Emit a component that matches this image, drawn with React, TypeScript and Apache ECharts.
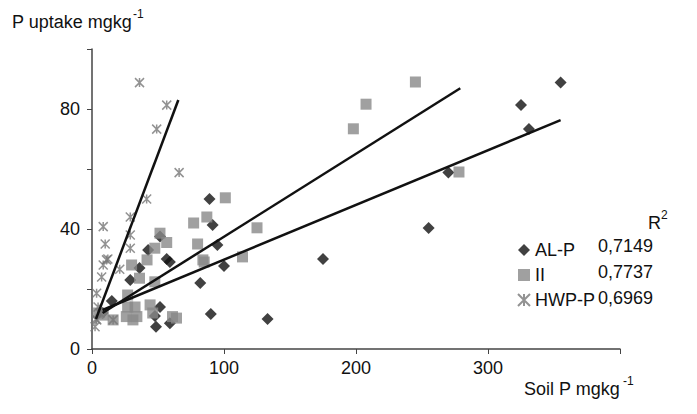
import React, { useEffect, useRef } from "react";
import * as echarts from "echarts";

const alp: number[][] = [[355,88.8],[325,81.3],[331,73.3],[270,58.8],[255,40.3],[175,30],[133,10],[90,11.7],[100,27.7],[95,34.7],[89,50],[91.4,41.3],[82,22],[51.5,14],[47.7,11],[48.5,7.4],[59,8.6],[56.6,30],[59,29],[42.5,33],[36,27],[29,23],[15,16],[51.5,37.5],[8,12]];
const ii: number[][] = [[245,89],[207.6,81.6],[198,73.4],[278,59],[101,50.4],[87,44],[125,40.4],[114,30.7],[85,29],[77,42],[80,35],[84,29.7],[51.5,38.6],[56.6,35.5],[47.6,33.6],[41.7,29.7],[30,28],[36,23.6],[47.6,22.4],[27,18],[44,14.7],[61,10.8],[64,10.3],[31,9.7],[26,10.8],[16,9.7],[8.5,11.3],[46,12],[34,10.8],[32.6,14],[27,14],[5,12]];
const hwp: number[][] = [[36,88.8],[56.6,81.3],[49,73.3],[66,58.8],[41.4,50],[29,44],[29,38],[29,33.6],[21,26.6],[8.5,40.8],[10,35],[11,29.7],[8.5,28],[7.3,24],[3.5,18.6],[4.6,14],[2.3,7.4],[16,9.7],[3.6,9.7],[12,30],[6,12],[3,10]];
const lineAlp: number[][] = [[8,13],[355,76.3]];
const lineII: number[][] = [[8,12],[279,86.9]];
const lineHwp: number[][] = [[3,10],[65.4,83]];
const names = ["AL-P", "II", "HWP-P"];
const r2 = ["0,7149", "0,7737", "0,6969"];

const star = "path://M0,0L10,10M10,0L0,10M5,0L5,10";
const font = "Liberation Sans, Arial, sans-serif";

export default function App() {
  const ref = useRef<HTMLDivElement>(null);
  useEffect(() => {
    const chart = echarts.init(ref.current!, undefined, { renderer: "svg" });
    const lineSeries = (d: number[][]) => ({
      type: "line", data: d, symbol: "none", silent: true,
      lineStyle: { color: "#111", width: 2.5 }, z: 3,
    });
    const txt = (t: string, x: number, y: number, size: number) => ({
      type: "text", left: x, top: y, style: { text: t, font: `${size}px ${font}`, fill: "#111" },
    });
    chart.setOption({
      animation: false,
      grid: { left: 84, right: 69, top: 41, bottom: 57 },
      xAxis: {
        type: "value", min: 0, max: 400, interval: 100,
        axisLine: { lineStyle: { color: "#444", width: 1.5 } },
        axisTick: { show: true, length: 5, lineStyle: { color: "#444" } },
        axisLabel: { fontFamily: font, fontSize: 18, color: "#111", margin: 10, formatter: (v: number) => (v === 400 ? "" : String(v)) },
        splitLine: { show: false },
      },
      yAxis: {
        type: "value", min: 0, max: 100, interval: 20,
        axisLine: { show: true, lineStyle: { color: "#444", width: 1.5 } },
        axisTick: { show: true, length: 5, lineStyle: { color: "#444" } },
        axisLabel: { fontFamily: font, fontSize: 18, color: "#111", margin: 12, formatter: (v: number) => (v % 40 === 0 && v < 100 ? String(v) : "") },
        splitLine: { show: false },
      },
      legend: {
        orient: "vertical", left: 504, top: 228, itemGap: 7, itemWidth: 12, itemHeight: 12,
        textStyle: { fontFamily: font, fontSize: 18, color: "#111" },
        data: names,
      },
      graphic: [
        txt("P uptake mgkg", 4, 5, 18),
        txt("-1", 125, 0, 12),
        txt("Soil P mgkg", 516, 372, 18),
        txt("-1", 615, 367, 12),
        txt("R", 640, 206, 18),
        txt("2", 653, 201, 12),
        ...r2.map((t, i) => txt(t, 590, 229 + i * 26, 18)),
      ],
      series: [
        { name: "AL-P", type: "scatter", data: alp, symbol: "diamond", symbolSize: 12, itemStyle: { color: "#111" }, z: 2 },
        { name: "II", type: "scatter", data: ii, symbol: "rect", symbolSize: 11, itemStyle: { color: "#888" }, z: 2 },
        { name: "HWP-P", type: "scatter", data: hwp, symbol: star, symbolSize: 9, itemStyle: { color: "transparent", borderColor: "#777", borderWidth: 1.5 }, z: 2 },
        lineSeries(lineAlp), lineSeries(lineII), lineSeries(lineHwp),
      ],
    });
    return () => chart.dispose();
  }, []);
  return <div ref={ref} style={{ width: 681, height: 398, background: "#fff" }} />;
}
